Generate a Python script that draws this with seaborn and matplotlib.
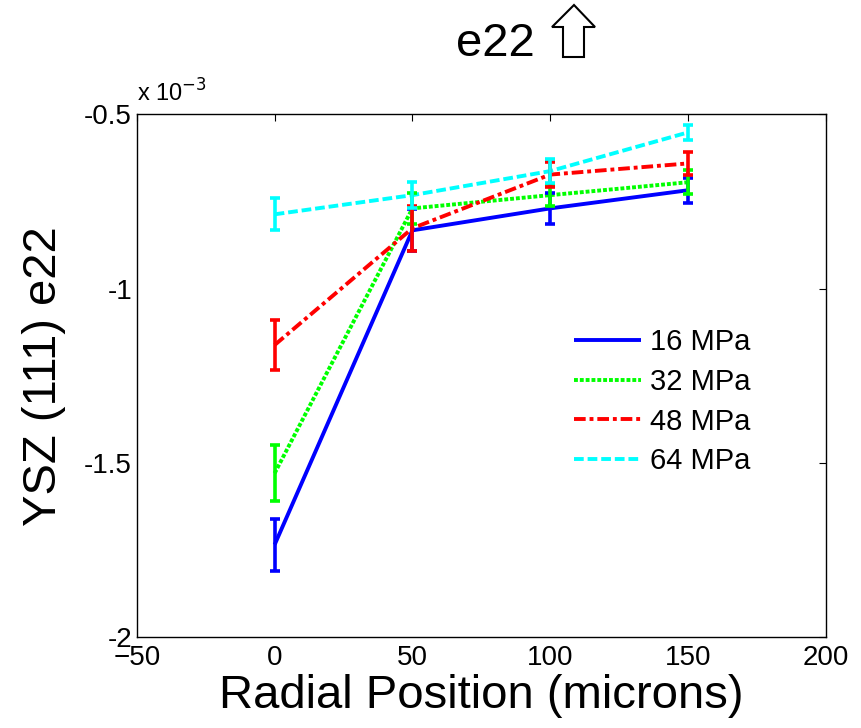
import pandas as pd
import matplotlib.pyplot as plt
import seaborn as sns
from matplotlib.patches import Polygon

# strain values in units of 1e-3
positions = [0, 50, 100, 150]
loads = ['16 MPa', '32 MPa', '48 MPa', '64 MPa']
e22_16 = [-1.735, -0.833, -0.770, -0.718]
e22_32 = [-1.530, -0.770, -0.732, -0.695]
e22_48 = [-1.162, -0.827, -0.673, -0.641]
e22_64 = [-0.787, -0.732, -0.663, -0.552]
err_16 = [0.075, 0.060, 0.045, 0.036]
err_32 = [0.080, 0.045, 0.030, 0.034]
err_48 = [0.072, 0.065, 0.035, 0.033]
err_64 = [0.046, 0.037, 0.034, 0.022]

colors = ['#0000ff', '#00ff00', '#ff0000', '#00ffff']
dashes = [(1, 0), (1, 0.5), (3, 1, 1, 1), (2.5, 1)]

df = pd.DataFrame({
    'pos': positions * 4,
    'e22': e22_16 + e22_32 + e22_48 + e22_64,
    'err': err_16 + err_32 + err_48 + err_64,
    'load': [l for l in loads for _ in positions],
})

sns.set_style('white')
plt.rcParams['font.family'] = ['Liberation Sans', 'DejaVu Sans']
plt.rcParams['text.color'] = 'black'
plt.rcParams['axes.labelcolor'] = 'black'
plt.rcParams['xtick.color'] = 'black'
plt.rcParams['ytick.color'] = 'black'

fig = plt.figure(figsize=(8.61, 7.28), dpi=100)
ax = fig.add_axes([0.159, 0.125, 0.800, 0.718])

sns.lineplot(data=df, x='pos', y='e22', hue='load', style='load',
             palette=colors, dashes=dashes, linewidth=2.8, ax=ax)

for load, c in zip(loads, colors):
    sub = df[df['load'] == load]
    ax.errorbar(sub['pos'], sub['e22'], yerr=sub['err'], fmt='none',
                ecolor=c, elinewidth=2.6, capsize=3.8, capthick=2.6)

ax.set_xlim(-50, 200)
ax.set_ylim(-2, -0.5)
ax.set_xticks([-50, 0, 50, 100, 150, 200])
ax.set_yticks([-2, -1.5, -1, -0.5])
ax.set_yticklabels(['-2', '-1.5', '-1', '-0.5'])
ax.tick_params(direction='in', labelsize=20, length=5, top=True, right=True)
ax.tick_params(axis='x', pad=6)
for s in ax.spines.values():
    s.set_color('black')
    s.set_linewidth(1)

ax.set_xlabel('Radial Position (microns)', fontsize=34, labelpad=2)
ax.set_ylabel('YSZ (111) e22', fontsize=34, labelpad=13)
ax.text(0.0, 1.015, r'x 10$^{-3}$', transform=ax.transAxes, fontsize=17, ha='left', va='bottom')

fig.text(0.575, 0.94, 'e22', fontsize=34, ha='center', va='center')
# outline arrow next to the title, in pixel coords
W, H = 861, 728
arrow_px = [(574, 5), (595, 27), (584, 27), (584, 57), (563, 57), (563, 27), (552, 27)]
fig.patches.append(Polygon([(x / W, 1 - y / H) for x, y in arrow_px], closed=True,
                           facecolor='white', edgecolor='black', linewidth=1.5,
                           transform=fig.transFigure, figure=fig))

ax.legend(frameon=False, fontsize=21, loc='center left', bbox_to_anchor=(0.597, 0.45),
          handlelength=2.3, handletextpad=0.3, labelspacing=0.4)

fig.savefig('out.png', dpi=100)
